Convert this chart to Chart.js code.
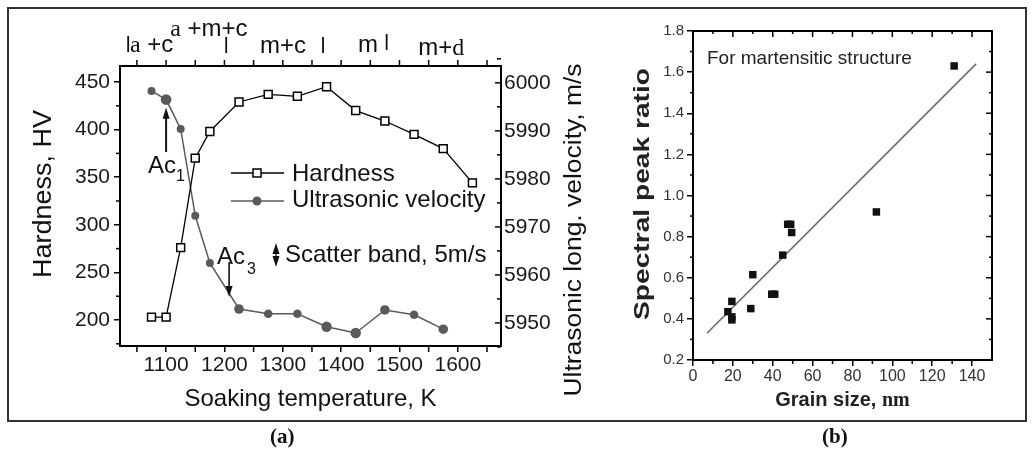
<!DOCTYPE html>
<html><head><meta charset="utf-8">
<script src="https://cdn.jsdelivr.net/npm/chart.js@4/dist/chart.umd.min.js"></script>
<style>
html,body{margin:0;padding:0;background:#fff;}
#wrap{position:relative;width:1032px;height:458px;overflow:hidden;}
#frame{position:absolute;left:7px;top:7px;width:1020px;height:415px;border:2px solid #333;box-sizing:border-box;}
.cap{position:absolute;top:424px;font-family:"Liberation Serif","Times New Roman",serif;font-weight:bold;font-size:21px;color:#111;}
#chartA{position:absolute;left:0;top:0;}
#chartB{position:absolute;left:600px;top:0;}
</style></head>
<body><div id="wrap">
<div id="frame"></div>
<canvas id="chartA" width="600" height="458"></canvas>
<canvas id="chartB" width="432" height="458"></canvas>
<div class="cap" style="left:270px">(a)</div>
<div class="cap" style="left:822px">(b)</div>
</div>
<script>
// ---------- Panel (a) data ----------
const tempHard = [1075,1100,1125,1150,1175,1225,1275,1325,1375,1425,1475,1525,1575,1625];
const hardness = [203,203,276,370,398,429,437,435,445,420,409,395,380,344];
const tempVel  = [1075,1100,1125,1150,1175,1225,1275,1325,1375,1425,1475,1525,1575];
const velocity = [5998.3,5996.5,5990.4,5972.3,5962.5,5952.9,5951.9,5951.9,5949.2,5947.9,5952.7,5951.7,5948.7];
const tempTicks = [1100,1200,1300,1400,1500,1600];
const hardTicks = [200,250,300,350,400,450];
const velTicks  = [5950,5960,5970,5980,5990,6000];
const phaseNames  = ['a +c','a +m+c','m+c','m','m+d'];
const phaseStartT = [1038,1107,1261,1429,1532];
const phaseBounds = [1035,1203,1369,1478];

// ---------- Panel (b) data ----------
const grainSize = [131,92,47.5,49,49.5,45,30,39.5,41,29,19.5,17.5,19.5,19.5];
const peakRatio = [1.63,0.92,0.86,0.86,0.82,0.71,0.615,0.52,0.52,0.45,0.485,0.435,0.41,0.395];
const fitGrain = [7,142];
const fitRatio = [0.33,1.64];
const grainTicks = [0,20,40,60,80,100,120,140];
const ratioTicks = [0.2,0.4,0.6,0.8,1.0,1.2,1.4,1.6,1.8];

const SANS = '"Liberation Sans", Arial, sans-serif';
const SERIF = '"Liberation Serif", "Times New Roman", serif';
Chart.defaults.font.family = SANS;
Chart.defaults.animation = false;

function seg(ctx,x1,y1,x2,y2,w,c){ctx.beginPath();ctx.moveTo(x1,y1);ctx.lineTo(x2,y2);ctx.lineWidth=w;ctx.strokeStyle=c;ctx.stroke();}
function arrowHead(ctx,x,y,dir,c){ // dir: -1 up, +1 down
  ctx.beginPath();ctx.moveTo(x,y);ctx.lineTo(x-3.5,y-dir*11);ctx.lineTo(x+3.5,y-dir*11);ctx.closePath();ctx.fillStyle=c;ctx.fill();
}
function rotText(ctx,text,cx,cy,font,sx,color){
  ctx.save();ctx.translate(cx,cy);ctx.rotate(-Math.PI/2);ctx.scale(sx,1);
  ctx.font=font;ctx.fillStyle=color;ctx.textAlign='center';ctx.textBaseline='middle';ctx.fillText(text,0,0);ctx.restore();
}
function mixedText(ctx,text,x,base,size,color){
  ctx.textAlign='left';ctx.textBaseline='alphabetic';ctx.fillStyle=color;
  for(const ch of text){
    const serif = (ch==='a'||ch==='d');
    ctx.font = size+'px '+(serif?SERIF:SANS);
    ctx.fillText(ch,x,base); x += ctx.measureText(ch).width;
  }
}
function ticksFrom(arr){return s=>{s.ticks=arr.map(v=>({value:v}));};}

const panelAPlugin = {
  id:'panelA',
  afterDraw(chart){
    const {ctx, chartArea:a, scales:{x,y,y1}} = chart;
    ctx.save();
    const K='#000';
    seg(ctx,a.left-1,a.top,a.right+1,a.top,2,K);
    for(let t=1050;t<=1650;t+=50){const p=x.getPixelForValue(t);seg(ctx,p,a.top,p,a.top-6,1.5,K);}
    for(let t=1050;t<=1650;t+=100){const p=x.getPixelForValue(t);seg(ctx,p,a.bottom,p,a.bottom+6,1.5,K);}
    for(let v=225;v<=425;v+=50){const p=y.getPixelForValue(v);seg(ctx,a.left,p,a.left-4,p,1.5,K);}
    seg(ctx,a.left,y.getPixelForValue(175),a.left-4,y.getPixelForValue(175),1.5,K);
    for(const v of velTicks){const p=y1.getPixelForValue(v);seg(ctx,a.right,p,a.right-6,p,1.5,K);}
    for(let v=5945;v<=6005;v+=10){const p=y1.getPixelForValue(v);seg(ctx,a.right,p,a.right-4,p,1.5,K);}
    const phaseBase=[52,36,53,52,55];
    phaseNames.forEach((n,i)=>mixedText(ctx,n,x.getPixelForValue(phaseStartT[i]),phaseBase[i],24,'#111'));
    const barTop=[36,37,37,34];
    phaseBounds.forEach((t,i)=>{const p=x.getPixelForValue(t);seg(ctx,p,barTop[i],p,barTop[i]+16,1.8,'#111');});
    // legend
    seg(ctx,231,173,284,173,1.3,'#000');
    ctx.fillStyle='#fff';ctx.fillRect(253,169,8,8);ctx.lineWidth=1.5;ctx.strokeStyle='#000';ctx.strokeRect(253,169,8,8);
    seg(ctx,231,201,284,201,1.5,'#5a5a5a');
    ctx.beginPath();ctx.arc(257,201,4.5,0,Math.PI*2);ctx.fillStyle='#5a5a5a';ctx.fill();
    ctx.font='24px '+SANS;ctx.fillStyle='#111';ctx.textAlign='left';ctx.textBaseline='middle';
    ctx.fillText('Hardness',292,174);
    ctx.fillText('Ultrasonic velocity',292,200);
    // scatter band
    seg(ctx,276,247,276,262,1.2,'#111');arrowHead(ctx,276,243,-1,'#111');arrowHead(ctx,276,267,1,'#111');
    ctx.fillText('Scatter band, 5m/s',285,255);
    // Ac1
    const xa1=x.getPixelForValue(1100);
    seg(ctx,xa1,y1.getPixelForValue(5985.6),xa1,y1.getPixelForValue(5993.5),2,'#111');
    arrowHead(ctx,xa1,y1.getPixelForValue(5994.8),-1,'#111');
    ctx.textBaseline='alphabetic';ctx.font='24px '+SANS;ctx.fillText('Ac',148,173);
    ctx.font='16px '+SANS;ctx.fillText('1',176,181);
    // Ac3
    const xa3=x.getPixelForValue(1208);
    seg(ctx,xa3,y1.getPixelForValue(5962.7),xa3,y1.getPixelForValue(5957),1.6,'#111');
    arrowHead(ctx,xa3,y1.getPixelForValue(5955.4),1,'#111');
    ctx.font='24px '+SANS;ctx.fillText('Ac',217,264);
    ctx.font='16px '+SANS;ctx.fillText('3',247,274);
    rotText(ctx,'Hardness, HV',44,194,'25px '+SANS,1.08,'#111');
    rotText(ctx,'Ultrasonic long. velocity, m/s',575,230,'23px '+SANS,1.15,'#111');
    ctx.restore();
  }
};

const axisStyle = {display:true, drawOnChartArea:false, drawTicks:true, tickLength:6, color:'#000', lineWidth:1.5};

new Chart(document.getElementById('chartA'),{
  type:'line',
  data:{datasets:[
    {label:'Hardness', data:tempHard.map((t,i)=>({x:t,y:hardness[i]})), yAxisID:'y',
     borderColor:'#000', borderWidth:1.3, pointStyle:'rect', pointRadius:5.6, pointBackgroundColor:'#fff',
     pointBorderColor:'#000', pointBorderWidth:1.5, tension:0},
    {label:'Ultrasonic velocity', data:tempVel.map((t,i)=>({x:t,y:velocity[i]})), yAxisID:'y1',
     borderColor:'#5a5a5a', borderWidth:1.5, pointStyle:'circle',
     pointRadius:[4,5.3,4,4,4,4.8,4.3,4.3,5.2,5.2,4.8,4.3,4.8], pointBackgroundColor:'#5a5a5a',
     pointBorderColor:'#5a5a5a', pointBorderWidth:0, tension:0}
  ]},
  options:{
    responsive:false, devicePixelRatio:1,
    layout:{padding:{top:66,bottom:40,left:0,right:0}},
    plugins:{legend:{display:false},tooltip:{enabled:false}},
    scales:{
      x:{type:'linear',position:'bottom',min:1021,max:1674,afterBuildTicks:ticksFrom(tempTicks),
         grid:axisStyle, border:{display:true,color:'#000',width:2},
         ticks:{font:{size:21},color:'#1a1a1a',padding:1,maxRotation:0,callback:v=>String(v)},
         title:{display:true,text:'Soaking temperature, K',font:{size:24},color:'#111',padding:{top:0,bottom:4}},
         afterFit:s=>{s.height=72;}},
      y:{type:'linear',position:'left',min:172.7,max:466.8,afterBuildTicks:ticksFrom(hardTicks),
         grid:axisStyle, border:{display:true,color:'#000',width:2},
         ticks:{font:{size:21},color:'#1a1a1a',padding:4,callback:v=>String(v)},
         afterFit:s=>{s.width=120;}},
      y1:{type:'linear',position:'right',min:5945.2,max:6003.5,afterBuildTicks:ticksFrom(velTicks),
         grid:{display:true,drawOnChartArea:false,drawTicks:false,color:'#000'}, border:{display:true,color:'#000',width:2},
         ticks:{font:{size:21},color:'#1a1a1a',padding:3,callback:v=>String(v)},
         afterFit:s=>{s.width=99;}}
    }
  },
  plugins:[panelAPlugin]
});

const panelBPlugin = {
  id:'panelB',
  afterDraw(chart){
    const {ctx, chartArea:a, scales:{x,y}} = chart;
    ctx.save();
    const K='#000';
    seg(ctx,a.left-1,a.top,a.right+1,a.top,2,K);
    seg(ctx,a.right,a.top-1,a.right,a.bottom+1,2,K);
    for(const v of grainTicks){const p=x.getPixelForValue(v);seg(ctx,p,a.top,p,a.top+6,1.5,K);}
    for(let v=10;v<150;v+=20){const p=x.getPixelForValue(v);seg(ctx,p,a.top,p,a.top+3,1.5,K);seg(ctx,p,a.bottom,p,a.bottom+4,1.5,K);}
    for(const v of ratioTicks){const p=y.getPixelForValue(v);seg(ctx,a.right,p,a.right-6,p,1.5,K);}
    for(let v=0.3;v<1.8;v+=0.2){const p=y.getPixelForValue(v);seg(ctx,a.right,p,a.right-3,p,1.5,K);seg(ctx,a.left,p,a.left-3,p,1.5,K);}
    ctx.font='19px '+SANS;ctx.fillStyle='#222';ctx.textAlign='left';ctx.textBaseline='middle';
    ctx.fillText('For martensitic structure',x.getPixelForValue(7),y.getPixelForValue(1.665));
    rotText(ctx,'Spectral peak ratio',43,194,'bold 22px '+SANS,1.28,'#222');
    ctx.textBaseline='middle';ctx.fillStyle='#222';
    ctx.font='bold 20px '+SANS;const t1='Grain size, ';const w1=ctx.measureText(t1).width;
    ctx.font='bold 20px '+SERIF;const w2=ctx.measureText('nm').width;
    const cx=(a.left+a.right)/2, x0=cx-(w1+w2)/2;
    ctx.font='bold 20px '+SANS;ctx.fillText(t1,x0,400);
    ctx.font='bold 20px '+SERIF;ctx.fillText('nm',x0+w1,401);
    ctx.restore();
  }
};

new Chart(document.getElementById('chartB'),{
  data:{datasets:[
    {type:'scatter', label:'Data', data:grainSize.map((g,i)=>({x:g,y:peakRatio[i]})),
     pointStyle:'rect', pointRadius:5.3, pointBackgroundColor:'#111', pointBorderColor:'#111', pointBorderWidth:0},
    {type:'line', label:'Fit', data:fitGrain.map((g,i)=>({x:g,y:fitRatio[i]})),
     borderColor:'#6b6b6b', borderWidth:1.6, pointRadius:0, tension:0}
  ]},
  options:{
    responsive:false, devicePixelRatio:1,
    layout:{padding:{top:31,bottom:0,left:0,right:40}},
    plugins:{legend:{display:false},tooltip:{enabled:false}},
    scales:{
      x:{type:'linear',position:'bottom',min:0,max:150,afterBuildTicks:ticksFrom(grainTicks),
         grid:axisStyle, border:{display:true,color:'#000',width:2},
         ticks:{font:{size:16},color:'#333',padding:1,maxRotation:0},
         afterFit:s=>{s.height=98;}},
      y:{type:'linear',position:'left',min:0.2,max:1.8,afterBuildTicks:ticksFrom(ratioTicks),
         grid:axisStyle, border:{display:true,color:'#000',width:2},
         ticks:{font:{size:15},color:'#333',padding:3,callback:v=>Number(v).toFixed(1)},
         afterFit:s=>{s.width=93;}}
    }
  },
  plugins:[panelBPlugin]
});
</script>
</body></html>
